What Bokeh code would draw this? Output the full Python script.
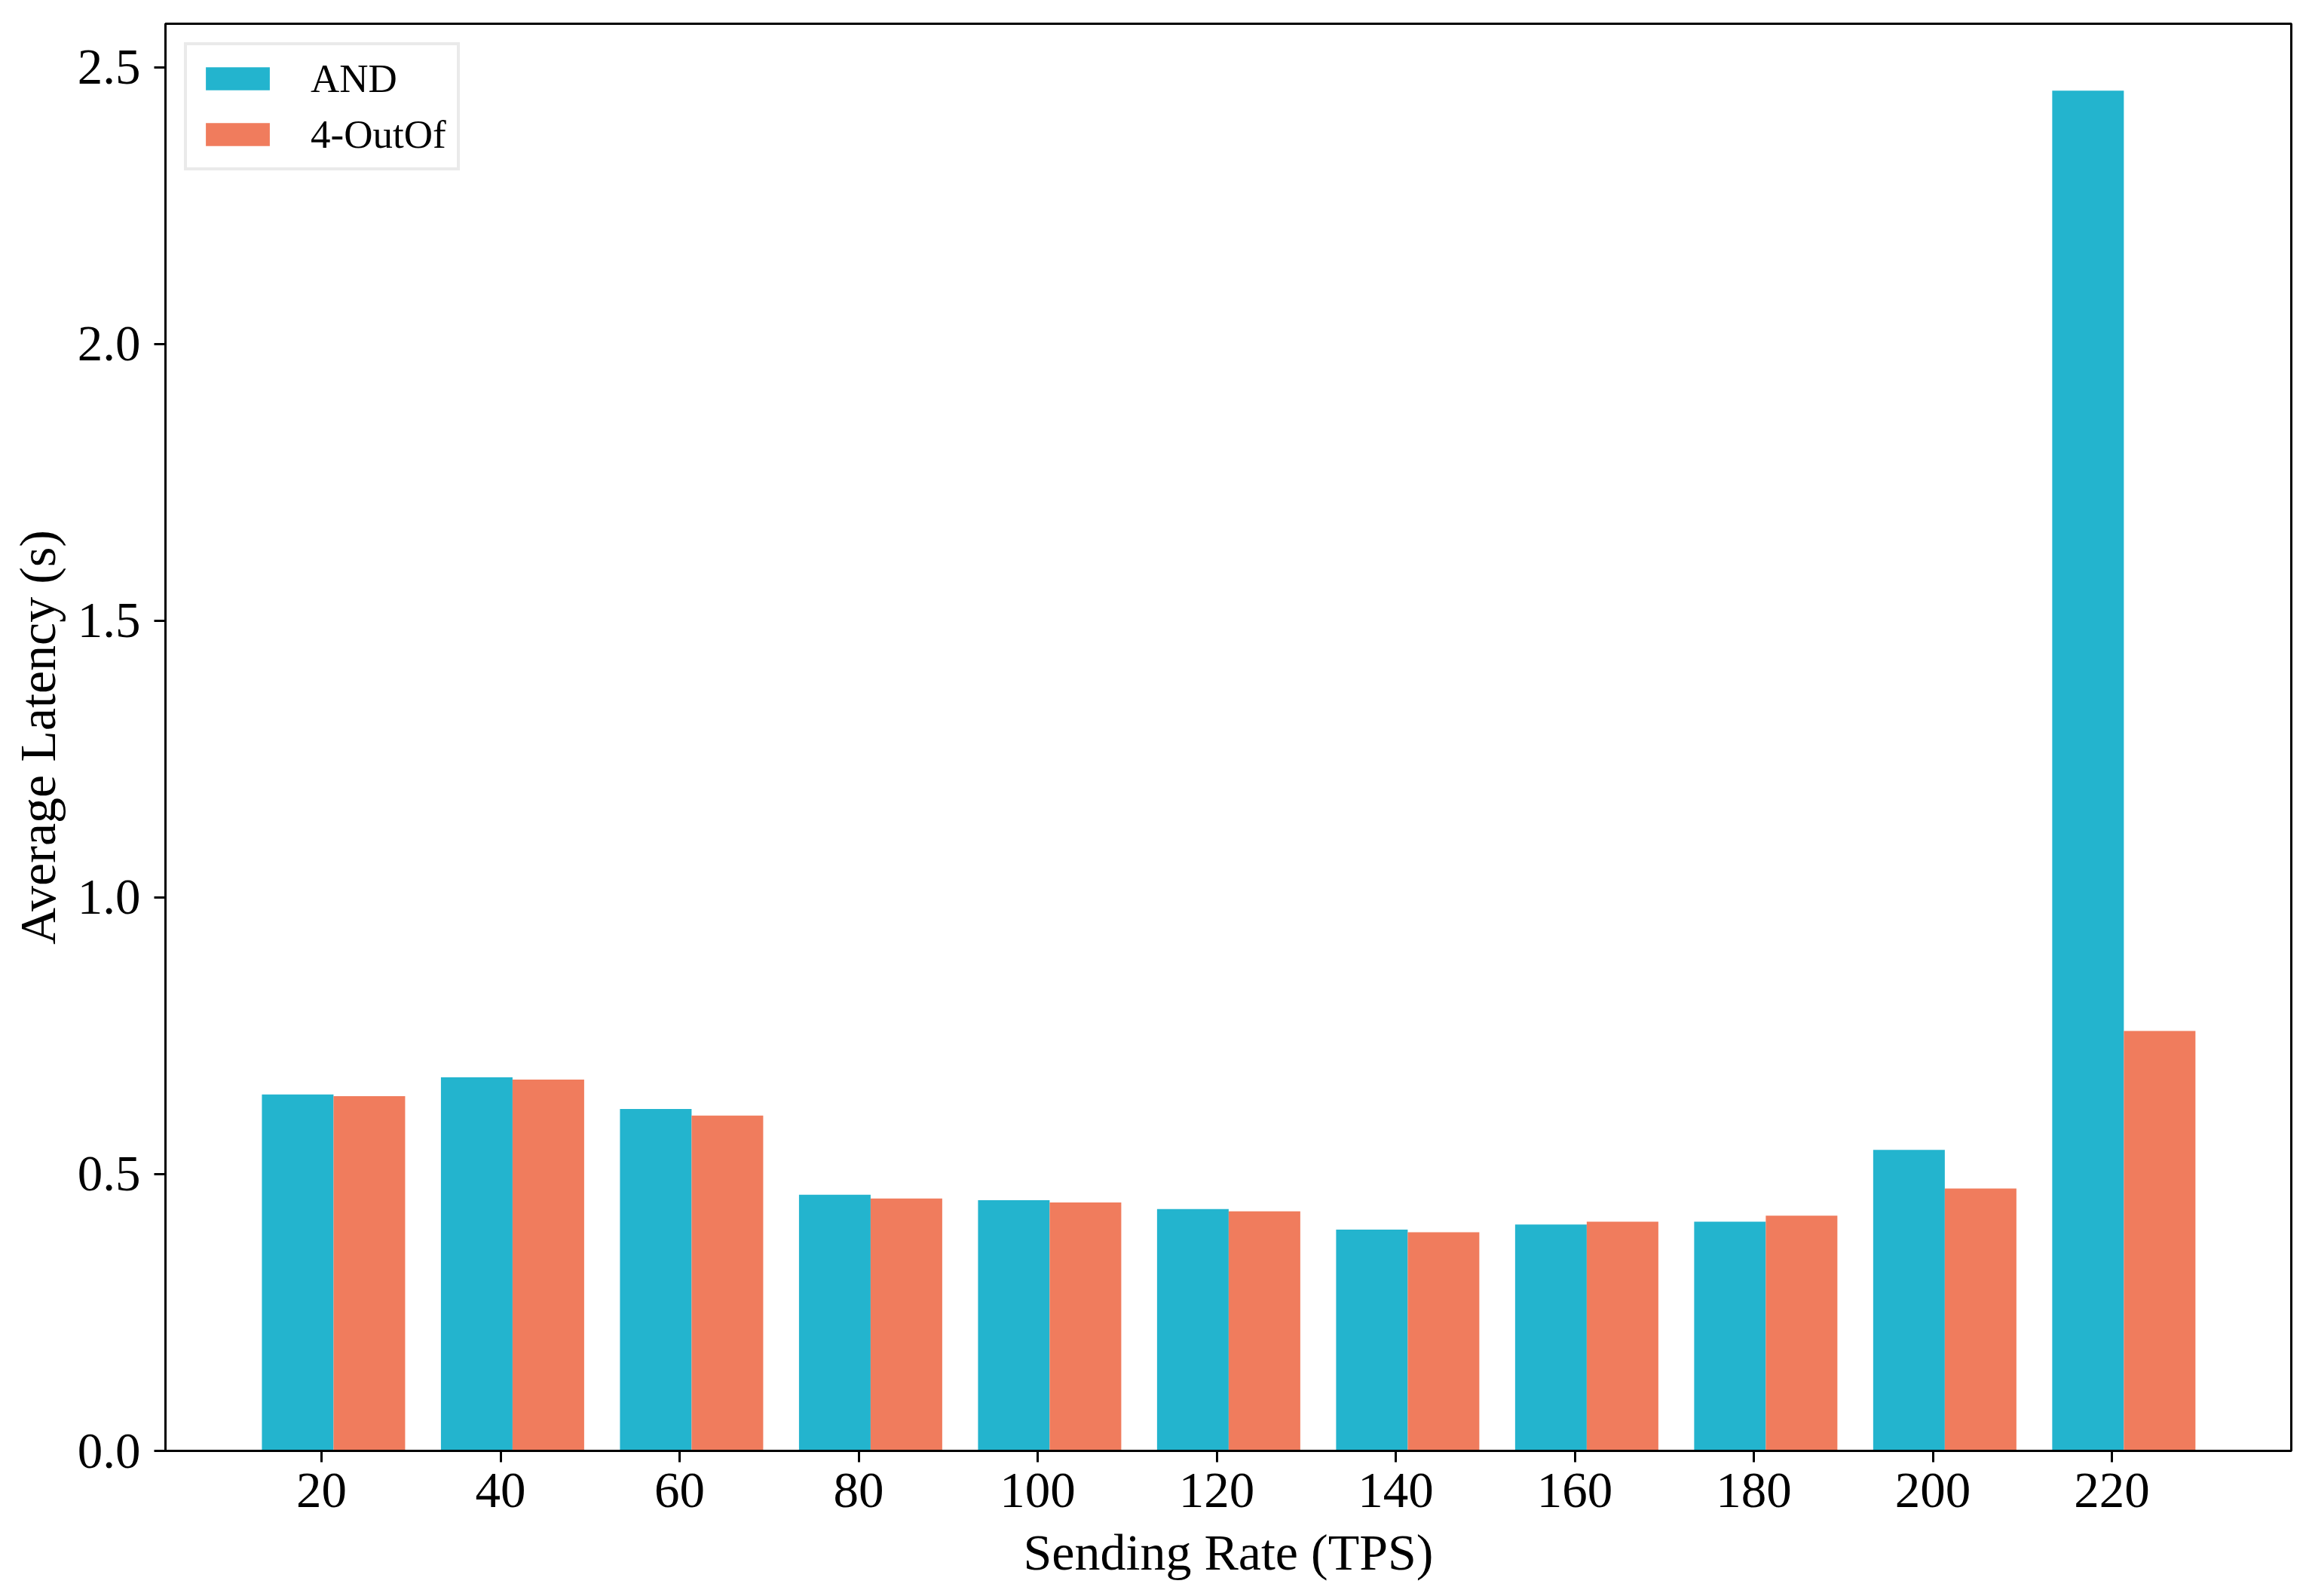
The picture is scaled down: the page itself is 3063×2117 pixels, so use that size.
import numpy as np
from bokeh.plotting import figure
from bokeh.models import Range1d, FixedTicker, PrintfTickFormatter, Legend, LegendItem
from bokeh.embed import file_html
from bokeh.resources import INLINE

# ---- data ----
rates = ["20", "40", "60", "80", "100", "120", "140", "160", "180", "200", "220"]
and_latency = [0.644, 0.675, 0.618, 0.463, 0.453, 0.437, 0.400, 0.409, 0.414, 0.544, 2.458]
outof_latency = [0.641, 0.671, 0.606, 0.456, 0.449, 0.433, 0.395, 0.414, 0.425, 0.474, 0.759]
series_names = ["AND", "4-OutOf"]
series_colors = ["#23B4CE", "#F07C5D"]
y_ticks = [0.0, 0.5, 1.0, 1.5, 2.0, 2.5]

FONT = "Liberation Serif"
W, H = 3047, 2101

idx = np.arange(len(rates))
bar_w = 0.4

p = figure(width=W, height=H, output_backend="svg", toolbar_location=None,
           x_range=Range1d(-0.872, 11.002), y_range=Range1d(0, 2.579),
           min_border_left=219, min_border_right=8, min_border_top=31, min_border_bottom=177)

r_and = p.vbar(x=idx - bar_w / 3, top=and_latency, width=bar_w,
               fill_color=series_colors[0], line_color=None)
r_out = p.vbar(x=idx - bar_w / 3 + bar_w, top=outof_latency, width=bar_w,
               fill_color=series_colors[1], line_color=None)

p.xgrid.visible = False
p.ygrid.visible = False
p.background_fill_color = "white"
p.border_fill_color = "white"
p.outline_line_color = "black"
p.outline_line_width = 3
p.outline_line_alpha = 1.0

p.xaxis.ticker = FixedTicker(ticks=list(idx))
p.xaxis.major_label_overrides = {int(i): r for i, r in zip(idx, rates)}
p.yaxis.ticker = FixedTicker(ticks=y_ticks)
p.yaxis.formatter = PrintfTickFormatter(format="%.1f")

p.xaxis.axis_label = "Sending Rate (TPS)"
p.yaxis.axis_label = "Average Latency (s)"

for ax in (p.xaxis[0], p.yaxis[0]):
    ax.axis_line_width = 3
    ax.axis_line_color = "black"
    ax.major_tick_line_width = 3
    ax.major_tick_line_color = "black"
    ax.major_tick_out = 15
    ax.major_tick_in = 0
    ax.minor_tick_line_color = None
    ax.major_label_text_font = FONT
    ax.major_label_text_font_size = "67px"
    ax.major_label_text_color = "black"
    ax.axis_label_text_font = FONT
    ax.axis_label_text_font_size = "68px"
    ax.axis_label_text_font_style = "normal"
    ax.axis_label_text_color = "black"

p.xaxis.major_label_standoff = 15
p.xaxis.axis_label_standoff = 19
p.yaxis.major_label_standoff = 18
p.yaxis.axis_label_standoff = 12

legend = Legend(items=[LegendItem(label=series_names[0], renderers=[r_and]),
                       LegendItem(label=series_names[1], renderers=[r_out])],
                location="top_left")
legend.margin = 25
legend.padding = 14
legend.spacing = 14
legend.glyph_width = 106
legend.glyph_height = 38
legend.label_standoff = 44
legend.label_text_font = FONT
legend.label_text_font_size = "53px"
legend.label_text_color = "black"
legend.border_line_color = "#d6d6d6"
legend.border_line_width = 4
legend.background_fill_color = "white"
legend.background_fill_alpha = 0.8
p.add_layout(legend)

open("out.html", "w").write(file_html(p, INLINE))
